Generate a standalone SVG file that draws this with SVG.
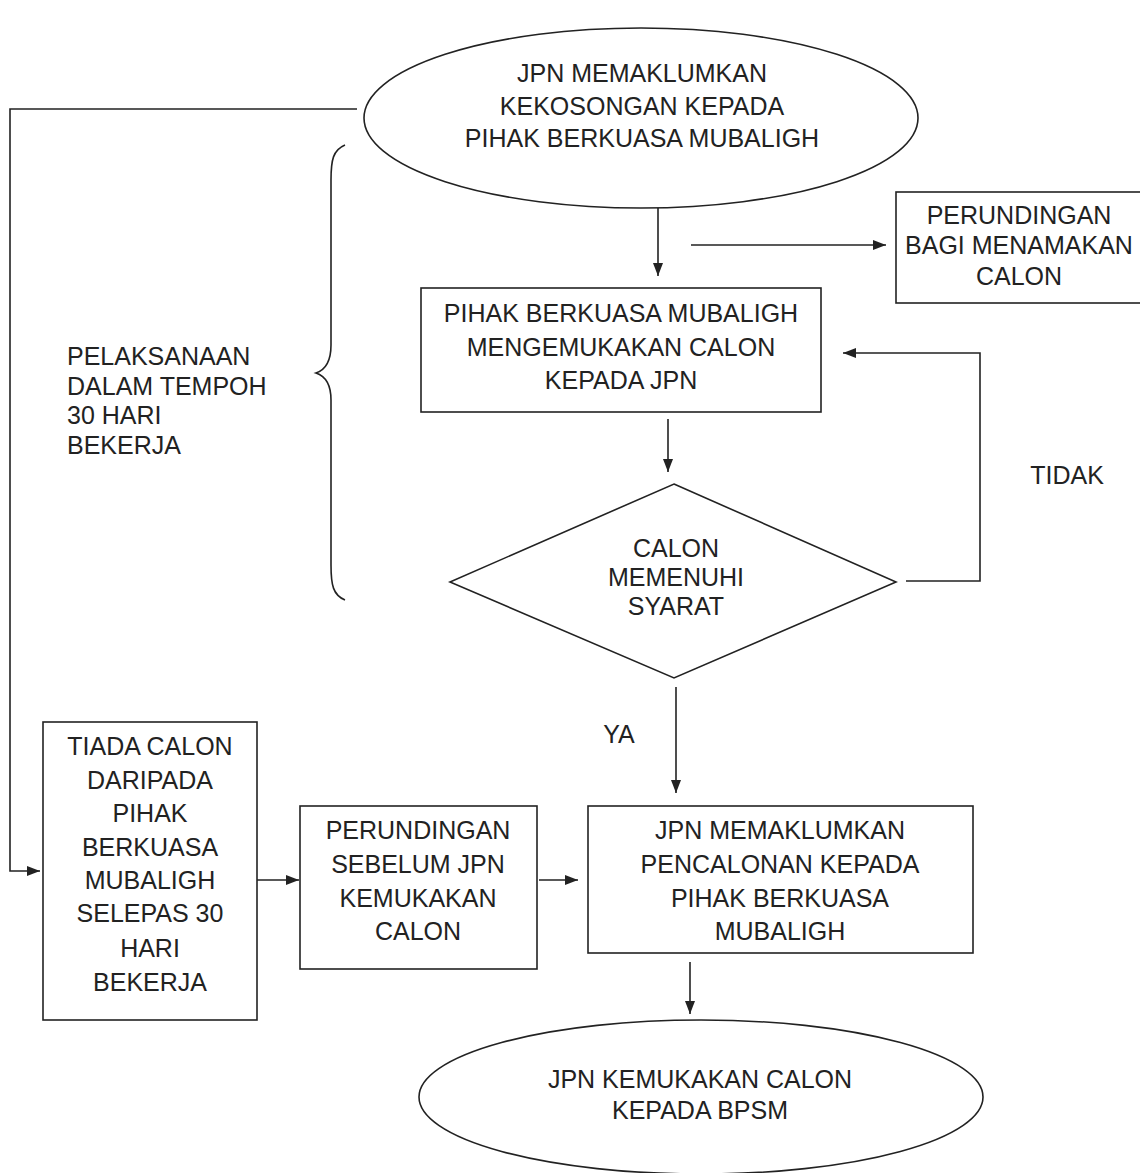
<svg xmlns="http://www.w3.org/2000/svg" width="1140" height="1173" viewBox="0 0 1140 1173">
<style>
.s{fill:none;stroke:#222;stroke-width:1.6}
.n{fill:#fff;stroke:#222;stroke-width:1.6}
text{font-family:"Liberation Sans",Arial,sans-serif;font-size:25px;fill:#222}
.c{text-anchor:middle}
</style>
<defs>
<marker id="ah" markerUnits="userSpaceOnUse" markerWidth="13" markerHeight="10" refX="13" refY="5" orient="auto">
<path d="M0,0 L13,5 L0,10 z" fill="#222"/>
</marker>
</defs>
<rect width="1140" height="1173" fill="#fff"/>
<g id="connectors">
<path class="s" d="M357,109 H10 V871 H40" marker-end="url(#ah)"/>
<path class="s" d="M658,208 V276" marker-end="url(#ah)"/>
<path class="s" d="M691,245 H886" marker-end="url(#ah)"/>
<path class="s" d="M668,419 V472" marker-end="url(#ah)"/>
<path class="s" d="M906,581 H980 V353 H843" marker-end="url(#ah)"/>
<path class="s" d="M676,687 V793" marker-end="url(#ah)"/>
<path class="s" d="M257,880 H299" marker-end="url(#ah)"/>
<path class="s" d="M539,880 H578" marker-end="url(#ah)"/>
<path class="s" d="M690,962 V1014" marker-end="url(#ah)"/>
<path class="s" d="M345,145 C333,150 331,160 331,180 V345 C331,362 325,370 316,373 C325,376 331,384 331,400 V565 C331,585 333,595 345,600"/>
</g>
<g id="n1">
<ellipse class="n" cx="641" cy="118" rx="277" ry="90"/>
<text class="c" x="642" y="82">JPN MEMAKLUMKAN</text>
<text class="c" x="642" y="115">KEKOSONGAN KEPADA</text>
<text class="c" x="642" y="147">PIHAK BERKUASA MUBALIGH</text>
</g>
<g id="n2">
<rect class="n" x="896" y="192" width="250" height="111"/>
<text class="c" x="1019" y="224">PERUNDINGAN</text>
<text class="c" x="1019" y="254">BAGI MENAMAKAN</text>
<text class="c" x="1019" y="285">CALON</text>
</g>
<g id="n3">
<rect class="n" x="421" y="288" width="400" height="124"/>
<text class="c" x="621" y="322">PIHAK BERKUASA MUBALIGH</text>
<text class="c" x="621" y="356">MENGEMUKAKAN CALON</text>
<text class="c" x="621" y="389">KEPADA JPN</text>
</g>
<g id="n4">
<polygon class="n" points="674,484 896,582 674,678 450,582"/>
<text class="c" x="676" y="557">CALON</text>
<text class="c" x="676" y="586">MEMENUHI</text>
<text class="c" x="676" y="615">SYARAT</text>
</g>
<g id="n5">
<text x="67" y="365">PELAKSANAAN</text>
<text x="67" y="395">DALAM TEMPOH</text>
<text x="67" y="424">30 HARI</text>
<text x="67" y="454">BEKERJA</text>
</g>
<g id="labels">
<text class="c" x="1067" y="484">TIDAK</text>
<text class="c" x="619" y="743">YA</text>
</g>
<g id="n6">
<rect class="n" x="43" y="722" width="214" height="298"/>
<text class="c" x="150" y="755">TIADA CALON</text>
<text class="c" x="150" y="789">DARIPADA</text>
<text class="c" x="150" y="822">PIHAK</text>
<text class="c" x="150" y="856">BERKUASA</text>
<text class="c" x="150" y="889">MUBALIGH</text>
<text class="c" x="150" y="922">SELEPAS 30</text>
<text class="c" x="150" y="957">HARI</text>
<text class="c" x="150" y="991">BEKERJA</text>
</g>
<g id="n7">
<rect class="n" x="300" y="806" width="237" height="163"/>
<text class="c" x="418" y="839">PERUNDINGAN</text>
<text class="c" x="418" y="873">SEBELUM JPN</text>
<text class="c" x="418" y="907">KEMUKAKAN</text>
<text class="c" x="418" y="940">CALON</text>
</g>
<g id="n8">
<rect class="n" x="588" y="806" width="385" height="147"/>
<text class="c" x="780" y="839">JPN MEMAKLUMKAN</text>
<text class="c" x="780" y="873">PENCALONAN KEPADA</text>
<text class="c" x="780" y="907">PIHAK BERKUASA</text>
<text class="c" x="780" y="940">MUBALIGH</text>
</g>
<g id="n9">
<ellipse class="n" cx="701" cy="1097" rx="282" ry="77"/>
<text class="c" x="700" y="1088">JPN KEMUKAKAN CALON</text>
<text class="c" x="700" y="1119">KEPADA BPSM</text>
</g>
</svg>
